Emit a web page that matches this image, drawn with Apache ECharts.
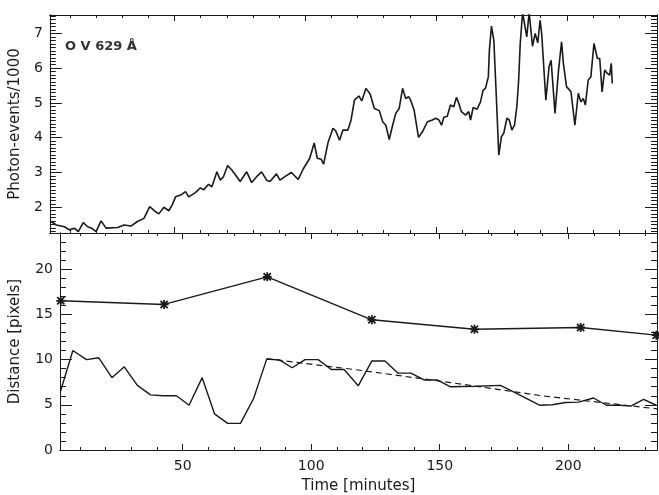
<!DOCTYPE html>
<html>
<head>
<meta charset="utf-8">
<script src="https://cdn.jsdelivr.net/npm/echarts@6/dist/echarts.min.js"></script>
<style>
  html, body { margin: 0; padding: 0; background: #fff; }
  #chart { width: 659px; height: 495px; }
</style>
</head>
<body>
<div id="chart"></div>
<script>
// axis ranges and tick labels
var X_MIN = 2.3, X_MAX = 234.5;
var xMajor = [50, 100, 150, 200];
var xMinor = [10, 20, 30, 40, 60, 70, 80, 90, 110, 120, 130, 140, 160, 170, 180, 190, 210, 220, 230];
var topMajor = [2, 3, 4, 5, 6, 7];
var botMajor = [0, 5, 10, 15, 20];
var botMinor = [1, 2, 3, 4, 6, 7, 8, 9, 11, 12, 13, 14, 16, 17, 18, 19, 21, 22, 23];
var topMinor = [];
for (var v = 13; v <= 75; v++) {
    if (v % 10 != 0) topMinor.push(v / 10);
}

// O V 629 light curve, [time, photon-events/1000]
var photonData = [
    [2.8,1.59],[4.8,1.49],[7.9,1.44],[9.8,1.35],[11.7,1.40],[13.2,1.30],[15.1,1.56],[16.8,1.44],[18.3,1.40],[20,1.30],
    [21.9,1.61],[23.8,1.40],[28.2,1.42],[30.7,1.49],[33.3,1.46],[35.8,1.59],[38.3,1.68],[40.5,2.02],[42.8,1.87],[44,1.81],
    [45.9,2.0],[47.8,1.90],[49.1,2.07],[50.4,2.30],[52.3,2.35],[54.2,2.45],[55.4,2.30],[58,2.42],[59.9,2.56],[61.1,2.50],
    [63,2.66],[64.3,2.59],[66.2,3.02],[67.5,2.78],[68.7,2.88],[70.3,3.20],[71.9,3.07],[73.8,2.88],[75.1,2.74],[77.6,3.02],
    [79.5,2.71],[81.4,2.88],[83.3,3.02],[85.2,2.78],[86.5,2.74],[89,2.96],[90.3,2.78],[92.2,2.88],[94.7,3.0],[97.3,2.80],
    [99.2,3.10],[101.7,3.41],[102.3,3.36],[103.4,3.85],[104.6,3.41],[106.1,3.38],[107,3.24],[108.7,3.86],[110.6,4.27],[111.6,4.20],
    [113.1,3.93],[114.4,4.22],[116.3,4.22],[117.5,4.51],[118.8,5.08],[120.5,5.20],[121.6,5.06],[123.2,5.42],[124.8,5.26],[126.4,4.84],
    [128.3,4.78],[129.6,4.46],[130.8,4.36],[132.1,3.95],[133.4,4.36],[134.6,4.70],[135.9,4.84],[137.2,5.42],[138.4,5.13],[139.5,5.18],
    [140.3,5.08],[141.6,4.80],[143.3,4.01],[144.8,4.17],[146.7,4.46],[148.6,4.51],[149.9,4.56],[151.1,4.51],[152.1,4.36],[153,4.59],
    [154.3,4.62],[155.5,4.94],[156.8,4.89],[157.8,5.16],[158.7,4.99],[159.7,4.75],[161.3,4.65],[162.5,4.75],[163.2,4.51],[164.2,4.87],
    [165.7,4.82],[167,5.03],[168,5.37],[168.9,5.42],[170,5.75],[170.4,6.52],[171.2,7.21],[172.1,6.81],[173,5.28],[174,3.50],
    [175,4.03],[175.9,4.13],[177.1,4.56],[178,4.51],[179,4.22],[180,4.36],[180.9,4.89],[181.6,5.66],[182.2,6.71],[183.1,7.6],
    [184.7,6.90],[185.6,7.6],[186.9,6.63],[187.9,7.0],[188.9,6.73],[189.8,7.38],[190.4,7.0],[192,5.08],[193.2,6.04],[194,6.23],
    [195.5,4.70],[196.8,5.90],[198,6.76],[198.7,6.14],[199.9,5.47],[201.6,5.32],[203.1,4.36],[204.4,5.28],[205.4,5.03],[206.3,5.13],
    [207.1,4.94],[208.2,5.66],[209.2,5.75],[210.4,6.71],[211.7,6.28],[212.6,6.28],[213.5,5.32],[214.5,5.95],[215.5,5.85],[216.4,5.80],
    [217,6.14],[217.4,5.56]
];

// distances [pixels]
var starData = [[2.6,16.5],[42.8,16.1],[82.9,19.15],[123.6,14.4],[163.5,13.35],[204.8,13.55],[234.2,12.7]];
var distData = [
    [2.5,6.5],[7.3,11.0],[12.6,10.0],[17.4,10.2],[22.5,8.0],[27.3,9.2],[32.4,7.15],[37.5,6.1],[42.5,6.0],[47.6,6.0],
    [52.5,4.95],[57.6,8.0],[62.4,4.0],[67.5,2.95],[72.5,2.95],[77.6,5.7],[82.7,10.05],[87.8,9.95],[92.6,9.1],[97.6,10.0],
    [102.7,10.0],[107.8,8.9],[112.8,8.9],[118.3,7.1],[123.6,9.85],[128.7,9.85],[133.8,8.5],[138.8,8.5],[143.9,7.75],[149,7.75],
    [154,7.0],[164.2,7.05],[173.6,7.15],[181,6.1],[188.8,4.95],[193.8,5.0],[198.9,5.25],[204,5.3],[209.8,5.75],[214.9,4.95],
    [219.9,4.95],[224.3,4.85],[229.3,5.6],[234.2,4.95]
];
var fitData = [[82.7,10.1],[118.2,8.85],[154.3,7.45],[191,5.95],[234.5,4.55]];

var FONT = 'DejaVu Sans';
var INK = '#1a1a1a';
var STAR = 'path://M4 0L6 0L6 10L4 10Z M0 4L10 4L10 6L0 6Z M0.3 1.7L1.7 0.3L9.7 8.3L8.3 9.7Z M8.3 0.3L9.7 1.7L1.7 9.7L0.3 8.3Z';

function xAx(grid, pos, ticks, len, labels) {
    var a = {
        type: 'value', gridIndex: grid, position: pos, min: X_MIN, max: X_MAX,
        axisLine: { show: true, onZero: false, lineStyle: { color: INK, width: 1 } },
        axisTick: { show: true, inside: true, length: len, customValues: ticks, lineStyle: { color: INK } },
        axisLabel: { show: false },
        splitLine: { show: false }
    };
    if (labels) {
        a.axisLabel = { show: true, customValues: labels, margin: 9, fontSize: 14, fontFamily: FONT, color: INK };
    }
    return a;
}

function yAx(grid, pos, min, max, ticks, len, labels) {
    var a = {
        type: 'value', gridIndex: grid, position: pos, min: min, max: max,
        axisLine: { show: true, onZero: false, lineStyle: { color: INK, width: 1 } },
        axisTick: { show: true, inside: true, length: len, customValues: ticks, lineStyle: { color: INK } },
        axisLabel: { show: false },
        splitLine: { show: false }
    };
    if (labels) {
        a.axisLabel = { show: true, customValues: labels, margin: 7, fontSize: 14, fontFamily: FONT, color: INK };
    }
    return a;
}

var chart = echarts.init(document.getElementById('chart'));

var xAxes = [
    xAx(0, 'bottom', xMajor, 6),
    xAx(0, 'bottom', xMinor, 3),
    xAx(0, 'top', xMajor, 6),
    xAx(0, 'top', xMinor, 3),
    xAx(1, 'bottom', xMajor, 6, xMajor),
    xAx(1, 'bottom', xMinor, 3),
    xAx(1, 'top', xMajor, 6),
    xAx(1, 'top', xMinor, 3)
];
xAxes[4].name = 'Time [minutes]';
xAxes[4].nameLocation = 'middle';
xAxes[4].nameGap = 29;
xAxes[4].nameTextStyle = { fontSize: 15, fontFamily: FONT, color: INK };

var yAxes = [
    yAx(0, 'left', 1.26, 7.53, topMajor, 12, topMajor),
    yAx(0, 'left', 1.26, 7.53, topMinor, 6),
    yAx(0, 'right', 1.26, 7.53, topMajor, 12),
    yAx(0, 'right', 1.26, 7.53, topMinor, 6),
    yAx(1, 'left', 0, 24, botMajor, 12, botMajor),
    yAx(1, 'left', 0, 24, botMinor, 6),
    yAx(1, 'right', 0, 24, botMajor, 12),
    yAx(1, 'right', 0, 24, botMinor, 6)
];
yAxes[0].name = 'Photon-events/1000';
yAxes[0].nameLocation = 'middle';
yAxes[0].nameGap = 24;
yAxes[0].nameTextStyle = { fontSize: 15, fontFamily: FONT, color: INK };
yAxes[4].name = 'Distance [pixels]';
yAxes[4].nameLocation = 'middle';
yAxes[4].nameGap = 37;
yAxes[4].nameTextStyle = { fontSize: 15, fontFamily: FONT, color: INK };

option = {
    backgroundColor: '#fff',
    animation: false,
    grid: [
        { left: 45, right: 2, top: 15, height: 218 },
        { left: 45, right: 2, top: 233, height: 217 }
    ],
    xAxis: xAxes,
    yAxis: yAxes,
    graphic: [
        {
            type: 'text', left: 65, top: 40,
            style: { text: 'O V 629 Å', fontSize: 13, fontWeight: 'bold', fontFamily: FONT, fill: '#333' }
        }
    ],
    series: [
        {
            name: 'O V', type: 'line', xAxisIndex: 0, yAxisIndex: 0,
            data: photonData, showSymbol: false,
            lineStyle: { color: INK, width: 1.6 }
        },
        {
            name: 'stars', type: 'line', xAxisIndex: 4, yAxisIndex: 4,
            data: starData, symbol: STAR, symbolSize: 9, showSymbol: true,
            itemStyle: { color: INK },
            lineStyle: { color: INK, width: 1.4 }
        },
        {
            name: 'distance', type: 'line', xAxisIndex: 4, yAxisIndex: 4,
            data: distData, showSymbol: false,
            lineStyle: { color: INK, width: 1.4 }
        },
        {
            name: 'fit', type: 'line', xAxisIndex: 4, yAxisIndex: 4,
            data: fitData, showSymbol: false,
            lineStyle: { color: INK, width: 1.2, type: [6, 4] }
        }
    ]
};
chart.setOption(option);
</script>
</body>
</html>
